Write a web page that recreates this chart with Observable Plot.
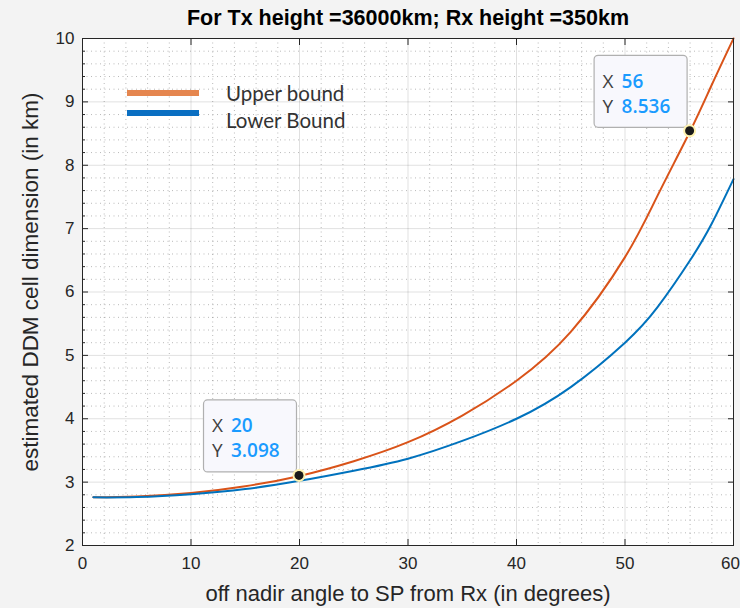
<!DOCTYPE html>
<html><head><meta charset="utf-8">
<script src="https://cdn.jsdelivr.net/npm/d3@7"></script>
<script src="https://cdn.jsdelivr.net/npm/@observablehq/plot@0.6"></script>
<style>
html,body{margin:0;padding:0;background:#f3f3f3;}
#chart{position:relative;width:740px;height:608px;}
</style></head><body><div id="chart"></div>
<script>
const titleText = "For Tx height =36000km; Rx height =350km";
const xLabel = "off nadir angle to SP from Rx (in degrees)";
const yLabel = "estimated DDM cell dimension (in km)";
const angles = [1, 5, 10, 15, 20, 25, 30, 35, 40, 45, 50, 53, 56, 58, 60];
const upper  = [2.76, 2.775, 2.83, 2.935, 3.098, 3.33, 3.63, 4.05, 4.6, 5.37, 6.55, 7.52, 8.536, 9.27, 10];
const lower  = [2.76, 2.765, 2.81, 2.89, 3.02, 3.18, 3.37, 3.65, 4.0, 4.5, 5.2, 5.76, 6.5, 7.08, 7.78];
const seriesNames = ["Upper bound", "Lower Bound"];
const seriesColors = ["#D95319", "#0072BD"];
const legendColors = ["#e5864f", "#0a6fc2"];
const xTicks = [0, 10, 20, 30, 40, 50, 60];
const yTicks = [2, 3, 4, 5, 6, 7, 8, 9, 10];
const xMinor = d3.range(0, 61, 2).filter(v => v % 10 !== 0);
const yMinor = d3.range(20, 101, 2).map(v => v / 10).filter(v => Math.abs(v - Math.round(v)) > 1e-9);
const tips = [{x: 20, y: 3.098}, {x: 56, y: 8.536}];

const rows = [];
angles.forEach((a, i) => {
  rows.push({x: a, y: upper[i], s: seriesNames[0]});
  rows.push({x: a, y: lower[i], s: seriesNames[1]});
});

const axisColor = "#262626";
const blank = () => "";
const chart = Plot.plot({
  width: 740, height: 608,
  marginLeft: 82, marginRight: 7, marginTop: 38, marginBottom: 63,
  style: {background: "transparent", fontFamily: "'Liberation Sans', Arial, sans-serif", fontSize: "17px", color: axisColor},
  x: {domain: [0, 60], label: null},
  y: {domain: [2, 10], label: null},
  color: {domain: seriesNames, range: seriesColors},
  marks: [
    Plot.frame({fill: "white", stroke: null}),
    Plot.ruleX(xMinor, {stroke: "#000", strokeOpacity: 0.28, strokeDasharray: "1,3.5"}),
    Plot.ruleY(yMinor, {stroke: "#000", strokeOpacity: 0.28, strokeDasharray: "1,3.5"}),
    Plot.ruleX(xTicks, {stroke: "#000", strokeOpacity: 0.12}),
    Plot.ruleY(yTicks, {stroke: "#000", strokeOpacity: 0.12}),
    Plot.line(rows, {x: "x", y: "y", z: "s", stroke: "s", strokeWidth: 2, curve: "natural"}),
    Plot.axisX({anchor: "bottom", ticks: xTicks.slice(0, -1), tickSize: -6, tickPadding: 17, fill: axisColor, stroke: axisColor}),
    Plot.axisX({anchor: "bottom", ticks: xTicks.slice(-1), tickSize: 0, tickPadding: 11, dx: -3, fill: axisColor, stroke: null}),
    Plot.axisX({anchor: "top", ticks: xTicks, tickSize: -6, tickFormat: blank, stroke: axisColor}),
    Plot.axisY({anchor: "left", ticks: yTicks, tickSize: -6, tickPadding: 14, fill: axisColor, stroke: axisColor}),
    Plot.axisY({anchor: "right", ticks: yTicks, tickSize: -6, tickFormat: blank, stroke: axisColor}),
    Plot.axisY({anchor: "left", ticks: yMinor, tickSize: -3, tickFormat: blank, stroke: axisColor}),
    Plot.frame({stroke: axisColor}),
    Plot.text([titleText], {frameAnchor: "top", lineAnchor: "middle", dy: -20, fontWeight: "bold", fontSize: 21.5, fill: "#000"}),
    Plot.text([xLabel], {frameAnchor: "bottom", lineAnchor: "middle", dy: 48, fontSize: 22, fill: axisColor}),
    Plot.text([yLabel], {frameAnchor: "left", textAnchor: "middle", lineAnchor: "middle", dx: -52, dy: -10, rotate: -90, fontSize: 22.5, fill: axisColor})
  ]
});
document.getElementById("chart").appendChild(chart);

// data tips (positioned from the data via the plot's scales)
const svg = d3.select(chart);
const sx = chart.scale("x"), sy = chart.scale("y");
tips.forEach(t => {
  const px = sx.apply(t.x), py = sy.apply(t.y);
  const w = 93, h = 72;
  const left = px - 3 - w, top = py - 4 - h;
  const g = svg.append("g").attr("text-anchor", "start");
  g.append("rect").attr("x", left + 0.5).attr("y", top + 0.5).attr("width", w).attr("height", h)
    .attr("rx", 4).attr("fill", "#f8f8fd").attr("stroke", "#b0b0b0").attr("stroke-width", 1.2);
  const lines = [["X", String(t.x)], ["Y", t.y.toFixed(3)]];
  lines.forEach((ln, i) => {
    const tx = g.append("text").attr("x", left + 9).attr("y", top + 33 + i * 25)
      .attr("font-family", "'Open Sans', sans-serif").attr("font-size", 19);
    tx.append("tspan").attr("fill", "#404040").text(ln[0]);
    tx.append("tspan").attr("x", left + 28).attr("fill", "#1a9bff").attr("font-weight", 600).text(ln[1]);
  });
  g.append("circle").attr("cx", px).attr("cy", py).attr("r", 6.5).attr("fill", "#fff3b0");
  g.append("circle").attr("cx", px).attr("cy", py).attr("r", 4.5).attr("fill", "#1a1a1a");
});

// legend
const lg = svg.append("g").attr("text-anchor", "start");
seriesNames.forEach((name, i) => {
  const y = 93 + i * 20;
  lg.append("line").attr("x1", 127).attr("x2", 199).attr("y1", y).attr("y2", y)
    .attr("stroke", legendColors[i]).attr("stroke-width", 6);
  lg.append("text").attr("x", 226).attr("y", 94 + i * 27).attr("dy", "0.35em")
    .attr("font-family", "Lato, sans-serif").attr("font-size", 20.5).attr("fill", "#333").text(name);
});
</script></body></html>
